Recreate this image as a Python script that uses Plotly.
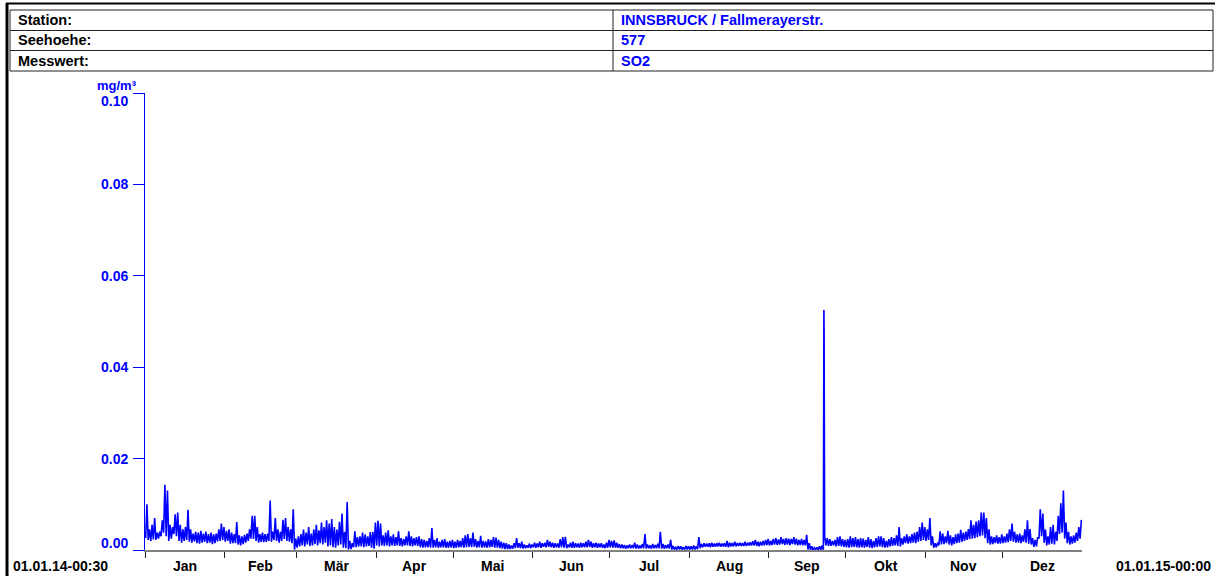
import plotly.graph_objects as go
from datetime import datetime, timedelta

# ---------------- header table ----------------
header_labels = ["Station:", "Seehoehe:", "Messwert:"]
header_values = ["INNSBRUCK / Fallmerayerstr.", "577", "SO2"]

# ---------------- axis labels ----------------
months_de = ["Jan", "Feb", "Mär", "Apr", "Mai", "Jun", "Jul", "Aug", "Sep", "Okt", "Nov", "Dez"]
y_ticks = [0.00, 0.02, 0.04, 0.06, 0.08, 0.10]
y_unit = "mg/m³"
start_label = "01.01.14-00:30"
end_label = "01.01.15-00:00"

# ---------------- SO2 daily high / low values (µg/m³) ----------------
jan_hi = [10.0, 4.5, 5.5, 7.0, 3.8, 4.0, 6.5, 14.3, 13.0, 5.5, 5.0, 7.8, 8.2, 5.5, 4.5, 5.0,
          8.8, 4.5, 3.6, 4.0, 3.8, 4.2, 3.6, 4.0, 3.5, 3.8, 3.4, 3.6, 4.5, 5.8, 5.0]
jan_lo = [2.6, 2.2, 2.0, 2.3, 2.2, 2.5, 3.0, 3.8, 3.0, 2.0, 2.5, 3.5, 3.0, 2.0, 1.6, 2.0,
          2.2, 1.8, 1.6, 1.9, 1.5, 1.4, 1.6, 1.8, 1.5, 1.6, 1.3, 1.5, 1.9, 2.0, 2.2]
feb_hi = [4.2, 4.5, 3.8, 3.5, 6.1, 3.2, 3.0, 3.3, 3.6, 4.5, 7.5, 7.5, 5.0, 3.5, 3.8, 3.5,
          3.6, 10.8, 4.0, 7.0, 4.5, 4.0, 6.6, 7.0, 5.0, 4.5, 8.9, 2.5]
feb_lo = [1.8, 2.0, 1.4, 1.5, 1.5, 1.2, 1.0, 1.3, 1.6, 2.0, 2.5, 2.4, 2.0, 1.6, 1.8, 1.7,
          1.8, 2.0, 1.8, 2.2, 2.0, 1.6, 2.0, 2.4, 2.0, 1.8, 1.5, 0.1]
mar_hi = [3.0, 3.5, 4.5, 3.8, 5.0, 3.6, 4.5, 5.5, 4.3, 6.0, 5.0, 6.5, 5.8, 6.8, 5.0, 4.5,
          6.2, 8.0, 4.0, 10.5, 2.0, 1.5, 4.1, 2.8, 3.0, 3.8, 3.4, 3.0, 3.9, 4.0, 6.0]
mar_lo = [0.5, 0.8, 1.0, 0.8, 1.2, 0.9, 1.0, 1.3, 1.0, 1.5, 1.2, 1.6, 0.8, 1.0, 0.6, 0.5,
          1.0, 1.2, 0.5, 0.4, 0.1, 0.2, 0.6, 0.6, 0.8, 0.8, 0.6, 0.8, 0.9, 0.5, 0.3]
apr_hi = [6.4, 5.8, 3.2, 3.8, 4.3, 3.0, 3.4, 2.8, 4.1, 2.6, 2.4, 3.0, 4.1, 3.0, 2.6, 2.8,
          3.0, 2.4, 2.2, 2.0, 2.6, 4.8, 2.2, 2.6, 1.8, 2.2, 2.4, 1.8, 2.0, 2.2]
apr_lo = [1.0, 0.8, 1.0, 0.9, 1.0, 0.8, 1.0, 0.9, 1.0, 0.9, 0.8, 1.0, 1.0, 0.9, 0.8, 1.0,
          0.9, 0.6, 0.5, 0.6, 0.6, 0.5, 0.5, 0.6, 0.5, 0.6, 0.6, 0.5, 0.5, 0.6]
may_hi = [1.8, 2.2, 2.0, 2.6, 3.2, 3.5, 2.6, 3.8, 2.4, 2.0, 3.1, 2.0, 1.9, 2.4, 2.2, 2.8,
          2.7, 2.2, 1.8, 1.6, 1.5, 1.2, 1.0, 1.5, 2.6, 1.5, 1.8, 1.2, 1.0, 1.4, 1.2]
may_lo = [0.4, 0.5, 0.6, 0.6, 0.5, 0.6, 0.7, 0.6, 0.7, 0.5, 0.6, 0.5, 0.6, 0.5, 0.6, 0.7,
          0.5, 0.5, 0.4, 0.3, 0.2, 0.2, 0.2, 0.3, 0.4, 0.5, 0.4, 0.3, 0.4, 0.5, 0.4]
jun_hi = [1.6, 1.4, 1.8, 1.5, 1.6, 2.2, 1.8, 1.6, 1.5, 1.4, 2.4, 2.8, 2.9, 1.2, 1.6, 1.8,
          1.5, 1.4, 1.6, 1.5, 1.8, 2.2, 1.8, 1.5, 1.6, 1.4, 1.5, 1.2, 1.6, 2.2]
jun_lo = [0.6, 0.5, 0.6, 0.5, 0.7, 0.6, 0.7, 0.6, 0.5, 0.6, 0.5, 0.6, 0.5, 0.4, 0.6, 0.5,
          0.5, 0.6, 0.5, 0.6, 0.6, 0.6, 0.7, 0.5, 0.6, 0.5, 0.6, 0.5, 0.4, 0.5]
jul_hi = [2.0, 2.1, 1.6, 1.3, 1.2, 1.1, 1.0, 1.2, 1.1, 1.6, 1.2, 1.0, 1.3, 3.5, 1.2, 1.0,
          1.3, 1.1, 1.4, 4.0, 1.3, 1.1, 1.2, 2.2, 0.9, 0.7, 0.9, 0.8, 0.6, 0.9, 0.8]
jul_lo = [0.6, 0.5, 0.5, 0.5, 0.4, 0.4, 0.3, 0.4, 0.4, 0.4, 0.3, 0.3, 0.4, 0.4, 0.3, 0.4,
          0.3, 0.4, 0.4, 0.4, 0.3, 0.3, 0.4, 0.3, 0.1, 0.1, 0.1, 0.1, 0.1, 0.1, 0.1]
aug_hi = [0.8, 1.0, 0.8, 2.8, 1.3, 1.5, 1.4, 1.5, 1.6, 1.4, 1.5, 1.6, 1.4, 1.5, 2.0, 1.6,
          1.5, 1.8, 1.5, 1.6, 1.5, 1.8, 1.6, 1.7, 1.9, 2.2, 1.8, 1.8, 2.0, 2.2, 2.4]
aug_lo = [0.1, 0.1, 0.1, 0.2, 0.4, 0.6, 0.7, 0.7, 0.6, 0.7, 0.7, 0.8, 0.7, 0.8, 0.7, 0.6,
          0.8, 0.8, 0.8, 0.9, 0.9, 0.9, 0.9, 1.0, 1.0, 1.0, 0.9, 0.8, 1.0, 1.0, 1.1]
sep_hi = [2.0, 2.4, 2.6, 2.3, 2.8, 2.4, 2.6, 2.5, 2.4, 2.8, 2.5, 2.2, 2.4, 2.2, 3.3, 1.5,
          0.8, 0.5, 0.6, 0.8, 1.0, 2.8, 2.6, 2.4, 2.0, 2.2, 2.8, 3.0, 2.4, 2.2]
sep_lo = [1.0, 1.1, 1.2, 1.1, 1.2, 1.3, 1.1, 1.2, 1.1, 1.3, 1.2, 1.0, 1.1, 1.0, 1.0, 0.1,
          0.05, 0.0, 0.05, 0.05, 0.05, 0.05, 1.0, 0.9, 0.9, 1.0, 0.8, 0.9, 0.8, 0.7]
oct_hi = [2.4, 3.0, 2.6, 2.8, 2.4, 2.6, 2.5, 2.2, 2.8, 2.4, 2.0, 2.6, 3.0, 3.0, 2.6, 2.0,
          2.4, 2.8, 2.6, 3.2, 5.0, 2.6, 3.0, 3.4, 3.0, 3.5, 3.8, 4.0, 5.0, 6.0, 5.0]
oct_lo = [0.6, 0.5, 0.6, 0.7, 0.6, 0.5, 0.6, 0.5, 0.7, 0.5, 0.4, 0.6, 0.7, 0.8, 0.6, 0.5,
          0.6, 0.8, 0.9, 1.0, 0.9, 0.8, 1.2, 1.5, 1.4, 1.5, 1.6, 1.5, 1.8, 2.0, 2.2]
nov_hi = [4.5, 7.0, 3.0, 1.5, 1.6, 4.1, 3.6, 3.0, 4.2, 3.2, 2.8, 3.4, 3.6, 4.4, 3.8, 4.0,
          4.6, 6.5, 5.5, 6.2, 6.5, 8.2, 8.2, 7.0, 4.5, 3.0, 2.8, 3.2, 2.8, 3.4]
nov_lo = [2.0, 2.2, 1.0, 0.5, 0.6, 1.0, 1.2, 1.3, 1.5, 1.2, 1.0, 1.3, 1.5, 1.6, 1.8, 2.0,
          2.2, 2.4, 2.5, 2.6, 2.8, 3.0, 3.2, 2.6, 1.5, 1.2, 1.3, 1.5, 1.4, 1.4]
dec_hi = [3.0, 3.6, 4.5, 5.8, 4.0, 3.4, 3.6, 3.2, 4.5, 6.5, 4.6, 2.6, 2.2, 2.8, 8.9, 8.0,
          4.5, 3.0, 5.0, 5.5, 4.0, 7.5, 10.2, 13.0, 6.0, 4.0, 3.0, 3.2, 3.8, 5.0, 6.6]
dec_lo = [1.5, 1.6, 1.7, 2.0, 1.8, 1.6, 1.6, 1.5, 1.8, 1.6, 1.4, 1.2, 0.7, 0.8, 2.5, 3.0,
          1.6, 1.0, 1.2, 1.4, 1.2, 2.0, 3.5, 3.8, 2.5, 1.5, 1.2, 1.4, 1.6, 2.0, 2.5]

# short SO2 event on 22 Sep (µg/m³)
spike_times = ["2014-09-22 11:00", "2014-09-22 11:30", "2014-09-22 12:00",
               "2014-09-22 12:30", "2014-09-22 13:00"]
spike_vals = [52.5, 31.0, 48.0, 31.0, 47.5]

# ---------------- build the series ----------------
hi_all = (jan_hi + feb_hi + mar_hi + apr_hi + may_hi + jun_hi +
          jul_hi + aug_hi + sep_hi + oct_hi + nov_hi + dec_hi)
lo_all = (jan_lo + feb_lo + mar_lo + apr_lo + may_lo + jun_lo +
          jul_lo + aug_lo + sep_lo + oct_lo + nov_lo + dec_lo)

start = datetime(2014, 1, 1)
pts = []
for d, (lo, hi) in enumerate(zip(lo_all, hi_all)):
    pts.append((start + timedelta(days=d, hours=6), lo / 1000.0))
    pts.append((start + timedelta(days=d, hours=18), hi / 1000.0))
for t, v in zip(spike_times, spike_vals):
    pts.append((datetime.strptime(t, "%Y-%m-%d %H:%M"), v / 1000.0))
pts.sort(key=lambda p: p[0])
xs = [p[0] for p in pts]
ys = [p[1] for p in pts]

month_starts = [datetime(2014, m, 1) for m in range(1, 13)]
month_ends = month_starts[1:] + [datetime(2015, 1, 1)]
month_mids = [a + (b - a) / 2 for a, b in zip(month_starts, month_ends)]

# ---------------- geometry helpers (pixels -> paper) ----------------
L, R, T, B = 145, 1082, 93, 550
W, H = R - L, B - T


def px(x):
    return (x - L) / W


def py(y):
    return (B - y) / H


BLUE = "#0000ff"
FONT = "Liberation Sans, Arial, sans-serif"

fig = go.Figure()
fig.add_trace(go.Scatter(x=xs, y=ys, mode="lines",
                         line=dict(color=BLUE, width=1.6), hoverinfo="skip"))

shapes = []
# outer frame
shapes.append(dict(type="line", xref="paper", yref="paper", x0=px(6), x1=px(1215),
                   y0=py(3.5), y1=py(3.5), line=dict(color="black", width=2)))
shapes.append(dict(type="line", xref="paper", yref="paper", x0=px(7), x1=px(7),
                   y0=py(3), y1=py(580), line=dict(color="black", width=3)))
# header table
shapes.append(dict(type="rect", xref="paper", yref="paper", x0=px(10), x1=px(1213),
                   y0=py(10), y1=py(71), line=dict(color="#222", width=1)))
for yy in (30.5, 50.5):
    shapes.append(dict(type="line", xref="paper", yref="paper", x0=px(10), x1=px(1213),
                       y0=py(yy), y1=py(yy), line=dict(color="#222", width=1)))
shapes.append(dict(type="line", xref="paper", yref="paper", x0=px(613), x1=px(613),
                   y0=py(10), y1=py(71), line=dict(color="#222", width=1)))

ann = []
row_y = [20, 40.5, 61]
for lab, val, yy in zip(header_labels, header_values, row_y):
    ann.append(dict(xref="paper", yref="paper", x=px(16), y=py(yy), xanchor="left",
                    yanchor="middle", text="<b>%s</b>" % lab, showarrow=False,
                    font=dict(family=FONT, size=14.5, color="black")))
    ann.append(dict(xref="paper", yref="paper", x=px(619), y=py(yy), xanchor="left",
                    yanchor="middle", text="<b>%s</b>" % val, showarrow=False,
                    font=dict(family=FONT, size=14.5, color=BLUE)))

# y tick labels
for v in y_ticks:
    shift = 0
    if v == y_ticks[0]:
        shift = 7
    elif v == y_ticks[-1]:
        shift = -8
    ann.append(dict(xref="paper", yref="y", x=px(130), y=v, xanchor="right",
                    yanchor="middle", yshift=shift, text="<b>%.2f</b>" % v,
                    showarrow=False, font=dict(family=FONT, size=14, color=BLUE)))
ann.append(dict(xref="paper", yref="paper", x=px(117), y=py(85), xanchor="center",
                yanchor="middle", text="<b>%s</b>" % y_unit, showarrow=False,
                font=dict(family=FONT, size=13, color=BLUE)))

# month labels
for m, name in zip(month_mids, months_de):
    ann.append(dict(xref="x", yref="paper", x=m, y=py(566), xanchor="center",
                    yanchor="middle", text="<b>%s</b>" % name, showarrow=False,
                    font=dict(family=FONT, size=14, color="black")))
ann.append(dict(xref="paper", yref="paper", x=px(11), y=py(566), xanchor="left",
                yanchor="middle", text="<b>%s</b>" % start_label, showarrow=False,
                font=dict(family=FONT, size=14, color="black")))
ann.append(dict(xref="paper", yref="paper", x=px(1213), y=py(566), xanchor="right",
                yanchor="middle", text="<b>%s</b>" % end_label, showarrow=False,
                font=dict(family=FONT, size=14, color="black")))

fig.update_layout(
    width=1215, height=576,
    margin=dict(l=L, r=1215 - R, t=T, b=576 - B, pad=0),
    paper_bgcolor="white", plot_bgcolor="white",
    showlegend=False,
    shapes=shapes, annotations=ann,
    xaxis=dict(type="date", range=[datetime(2014, 1, 1), datetime(2015, 1, 1)],
               showgrid=False, zeroline=False, showline=True, linecolor="#808080",
               linewidth=2, ticks="outside", ticklen=6, tickcolor="#222", tickwidth=1,
               tickvals=month_starts, showticklabels=False, fixedrange=True),
    yaxis=dict(range=[0, 0.10], showgrid=False, zeroline=False, showline=True,
               linecolor=BLUE, linewidth=1, ticks="outside", ticklen=11,
               tickcolor=BLUE, tickwidth=1, tickvals=y_ticks, showticklabels=False,
               fixedrange=True),
)

fig.write_html("out.html", config={"displayModeBar": False},
               post_script="document.body.style.margin='0';document.body.style.overflow='hidden';")
